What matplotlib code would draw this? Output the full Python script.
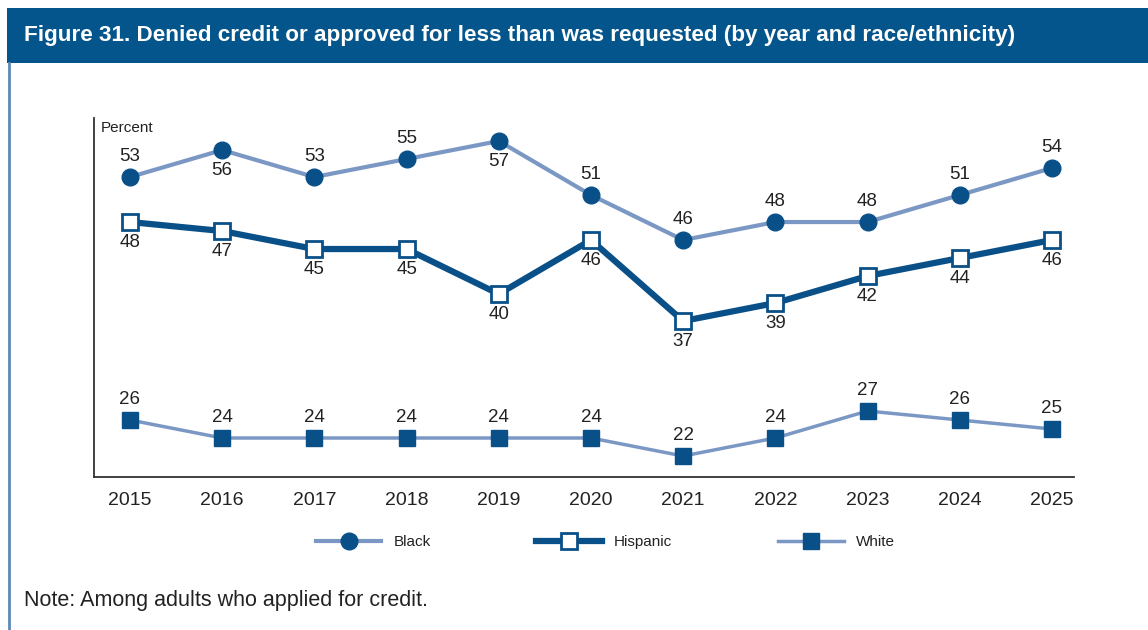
import matplotlib.pyplot as plt
from matplotlib.patches import Rectangle
from matplotlib.lines import Line2D

years = [2015, 2016, 2017, 2018, 2019, 2020, 2021, 2022, 2023, 2024, 2025]
black = [53, 56, 53, 55, 57, 51, 46, 48, 48, 51, 54]
hispanic = [48, 47, 45, 45, 40, 46, 37, 39, 42, 44, 46]
white = [26, 24, 24, 24, 24, 24, 22, 24, 27, 26, 25]
# which side of the marker each Black label sits on
black_pos = ['above', 'below', 'above', 'above', 'below', 'above', 'above',
             'above', 'above', 'above', 'above']

dark = '#0A5088'
light = '#7B98C4'
txt = '#222222'

plt.rcParams['font.family'] = ['Liberation Sans', 'DejaVu Sans']

fig = plt.figure(figsize=(11.48, 6.3), dpi=100)

# header band and left rule
fig.add_artist(Rectangle((7 / 1148, 567 / 630), 1, 55 / 630, transform=fig.transFigure,
                         facecolor='#04558C', edgecolor='none'))
fig.add_artist(Line2D([8.5 / 1148, 8.5 / 1148], [0, 567 / 630], transform=fig.transFigure,
                      color='#5F89B4', lw=2))
fig.text(24 / 1148, 0.9444, 'Figure 31. Denied credit or approved for less than was requested '
         '(by year and race/ethnicity)', color='white', fontsize=16.2, fontweight='bold',
         va='center', ha='left')
fig.text(24 / 1148, 0.0476, 'Note: Among adults who applied for credit.', color=txt,
         fontsize=15.5, va='center', ha='left')

ax = fig.add_axes([0.0819, 0.2429, 0.8537, 0.5698])

lb, = ax.plot(years, black, color=light, lw=3, marker='o', ms=12,
              mfc=dark, mec=dark, label='Black', zorder=3)
lh, = ax.plot(years, hispanic, color=dark, lw=4.5, marker='s', ms=12,
              mfc='white', mec=dark, mew=2, label='Hispanic', zorder=4)
lw_, = ax.plot(years, white, color=light, lw=2.5, marker='s', ms=12,
               mfc=dark, mec=dark, label='White', zorder=3)

for x, v, p in zip(years, black, black_pos):
    dy = 15 if p == 'above' else -15
    ax.annotate(str(v), (x, v), xytext=(0, dy), textcoords='offset points',
                ha='center', va='center', fontsize=13.5, color=txt)
for x, v in zip(years, hispanic):
    ax.annotate(str(v), (x, v), xytext=(0, -15), textcoords='offset points',
                ha='center', va='center', fontsize=13.5, color=txt)
for x, v in zip(years, white):
    ax.annotate(str(v), (x, v), xytext=(0, 15), textcoords='offset points',
                ha='center', va='center', fontsize=13.5, color=txt)

ax.set_xlim(2014.61, 2025.24)
ax.set_ylim(19.67, 59.56)
ax.set_xticks(years)
ax.set_xticklabels([str(y) for y in years])
ax.set_yticks([])
ax.tick_params(axis='x', length=0, pad=11, labelsize=14, labelcolor=txt)
for s in ['top', 'right']:
    ax.spines[s].set_visible(False)
for s in ['left', 'bottom']:
    ax.spines[s].set_color('#333333')
    ax.spines[s].set_linewidth(1.3)

fig.text(101 / 1148, (630 - 128) / 630, 'Percent', fontsize=11, color=txt,
         va='center', ha='left')

fig.legend(handles=[lb, lh, lw_], loc='center left', bbox_to_anchor=(302 / 1148, (630 - 542) / 630),
           ncol=3, frameon=False, fontsize=11, handlelength=4.3, handletextpad=0.8,
           columnspacing=6.9, labelcolor=txt)

fig.savefig('out.png', dpi=100)
